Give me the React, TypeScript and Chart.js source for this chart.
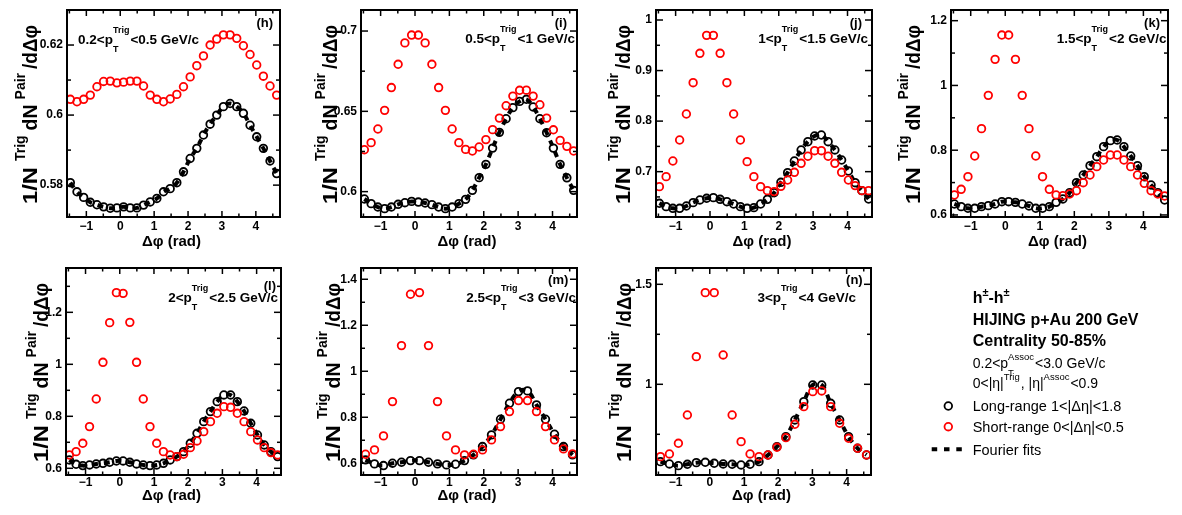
import React, { useEffect, useRef } from "react";
import { Chart, registerables } from "chart.js";
Chart.register(...registerables);

const FONT = '"Liberation Sans", Arial, Helvetica, sans-serif';

// ---------- bin centres ----------
const xBins32 = [-1.4726, -1.2763, -1.0799, -0.8836, -0.6872, -0.4909, -0.2945, -0.0982, 0.0982, 0.2945, 0.4909, 0.6872, 0.8836, 1.0799, 1.2763, 1.4726, 1.669, 1.8653, 2.0617, 2.258, 2.4544, 2.6507, 2.8471, 3.0434, 3.2398, 3.4361, 3.6325, 3.8288, 4.0252, 4.2215, 4.4179, 4.6142];
const xBins24 = [-1.4399, -1.1781, -0.9163, -0.6545, -0.3927, -0.1309, 0.1309, 0.3927, 0.6545, 0.9163, 1.1781, 1.4399, 1.7017, 1.9635, 2.2253, 2.4871, 2.7489, 3.0107, 3.2725, 3.5343, 3.7961, 4.0579, 4.3197, 4.5815];

// ---------- series (long-range = black, short-range = red) ----------
const longH = [0.5807, 0.5781, 0.5765, 0.5751, 0.5744, 0.5738, 0.5734, 0.5735, 0.5738, 0.5735, 0.5735, 0.5743, 0.5752, 0.5762, 0.5781, 0.579, 0.5807, 0.5838, 0.5876, 0.5905, 0.5943, 0.5974, 0.6, 0.6024, 0.6033, 0.6024, 0.6005, 0.5971, 0.5938, 0.5905, 0.5869, 0.5833];
const shortH = [0.6045, 0.6038, 0.6045, 0.6057, 0.6081, 0.6096, 0.6097, 0.6092, 0.6094, 0.6097, 0.6097, 0.6083, 0.6057, 0.6045, 0.6038, 0.6046, 0.6059, 0.6081, 0.6109, 0.6141, 0.6169, 0.62, 0.6217, 0.6229, 0.6229, 0.6219, 0.6198, 0.6173, 0.6143, 0.6111, 0.6083, 0.6057];

const longI = [0.5954, 0.5925, 0.5904, 0.5894, 0.5904, 0.5921, 0.5931, 0.5939, 0.5935, 0.5929, 0.5919, 0.5904, 0.5894, 0.5904, 0.5925, 0.5952, 0.6008, 0.6087, 0.617, 0.6271, 0.6369, 0.6454, 0.6523, 0.6562, 0.6575, 0.6527, 0.6454, 0.6367, 0.6271, 0.617, 0.6086, 0.6008];
const shortI = [0.6261, 0.6305, 0.639, 0.6506, 0.6648, 0.6793, 0.6926, 0.6975, 0.6975, 0.6926, 0.6793, 0.6648, 0.6506, 0.639, 0.6305, 0.6263, 0.6253, 0.6278, 0.6324, 0.6386, 0.6458, 0.6535, 0.6595, 0.6631, 0.6632, 0.6595, 0.6541, 0.6458, 0.6385, 0.6319, 0.6282, 0.6253];

const longJ = [0.6374, 0.6308, 0.6275, 0.6275, 0.6321, 0.6387, 0.644, 0.6473, 0.6486, 0.6453, 0.6406, 0.636, 0.6308, 0.6275, 0.6288, 0.636, 0.6453, 0.6584, 0.6789, 0.698, 0.7211, 0.7429, 0.7593, 0.7706, 0.7725, 0.7593, 0.7429, 0.7231, 0.7013, 0.6782, 0.6624, 0.6459];
const shortJ = [0.6703, 0.6901, 0.7211, 0.7626, 0.8141, 0.876, 0.9341, 0.9697, 0.9697, 0.9341, 0.876, 0.8141, 0.7626, 0.7198, 0.6901, 0.6703, 0.6624, 0.6605, 0.671, 0.6835, 0.6987, 0.7165, 0.7305, 0.7415, 0.7415, 0.7305, 0.7165, 0.6987, 0.6835, 0.6724, 0.6624, 0.6624];

const longK = [0.6339, 0.6256, 0.6206, 0.6206, 0.6256, 0.6287, 0.6339, 0.641, 0.641, 0.639, 0.6339, 0.6277, 0.6206, 0.6206, 0.6256, 0.639, 0.6493, 0.6689, 0.6997, 0.7234, 0.7523, 0.78, 0.8109, 0.8295, 0.8315, 0.8109, 0.7821, 0.7523, 0.7182, 0.6925, 0.6689, 0.6462];
const shortK = [0.6617, 0.6792, 0.7182, 0.7821, 0.8665, 0.9694, 1.0806, 1.1557, 1.1557, 1.0806, 0.9694, 0.8665, 0.7821, 0.7182, 0.6792, 0.6617, 0.6596, 0.6648, 0.675, 0.6997, 0.7234, 0.7492, 0.7697, 0.7852, 0.7852, 0.7697, 0.7492, 0.7234, 0.6977, 0.675, 0.6648, 0.6586];

const longL = [0.632, 0.6154, 0.6103, 0.6128, 0.6167, 0.6192, 0.6231, 0.6282, 0.6282, 0.6231, 0.6167, 0.6128, 0.6103, 0.6128, 0.6192, 0.632, 0.6449, 0.6641, 0.6962, 0.7346, 0.7795, 0.818, 0.8564, 0.8821, 0.8821, 0.8564, 0.8205, 0.7731, 0.7282, 0.6898, 0.6641, 0.6449];
const shortL = [0.6513, 0.6641, 0.6962, 0.7603, 0.8667, 1.0077, 1.1603, 1.2756, 1.273, 1.1615, 1.0077, 0.8667, 0.7603, 0.6962, 0.6641, 0.6513, 0.6449, 0.6539, 0.6795, 0.7051, 0.741, 0.7795, 0.8116, 0.8372, 0.8346, 0.8116, 0.7795, 0.741, 0.709, 0.6795, 0.6603, 0.6513];

const longM = [0.6147, 0.5973, 0.59, 0.6002, 0.6045, 0.6117, 0.6117, 0.6045, 0.5973, 0.5929, 0.5958, 0.6117, 0.6364, 0.6726, 0.7233, 0.7914, 0.861, 0.9117, 0.9146, 0.8537, 0.7914, 0.7262, 0.6726, 0.6364];
const shortM = [0.6393, 0.6581, 0.719, 0.8682, 1.1117, 1.3348, 1.342, 1.1117, 0.8682, 0.719, 0.6581, 0.6364, 0.6393, 0.6581, 0.7016, 0.7595, 0.8248, 0.8726, 0.8726, 0.8248, 0.7595, 0.7016, 0.6625, 0.6407];

const longN = [0.6133, 0.6017, 0.5933, 0.6, 0.6083, 0.61, 0.605, 0.6017, 0.6, 0.5967, 0.6, 0.6133, 0.6467, 0.6883, 0.7383, 0.8217, 0.9133, 0.9967, 0.9967, 0.905, 0.8217, 0.7383, 0.68, 0.6467];
const shortN = [0.6383, 0.6517, 0.705, 0.8467, 1.1383, 1.4583, 1.4583, 1.1467, 0.8467, 0.7133, 0.6517, 0.6383, 0.6467, 0.685, 0.7333, 0.8, 0.8883, 0.9633, 0.9667, 0.8883, 0.805, 0.73, 0.68, 0.6467];

// ---------- ticks ----------
const xMajor = [-1, 0, 1, 2, 3, 4];
const xMinor = [-1.5, -0.5, 0.5, 1.5, 2.5, 3.5, 4.5];
const xTickLabels = ["\u22121", "0", "1", "2", "3", "4"];

const yMajorH = [0.58, 0.6, 0.62];
const yMinorH = [0.59, 0.61];
const yMajorI = [0.6, 0.65, 0.7];
const yMinorI = [0.625, 0.675];
const yMajorJ = [0.7, 0.8, 0.9, 1];
const yMinorJ = [0.65, 0.75, 0.85, 0.95];
const yMajorK = [0.6, 0.8, 1, 1.2];
const yMinorK = [0.7, 0.9, 1.1];
const yMajorL = [0.6, 0.8, 1, 1.2];
const yMinorL = [0.7, 0.9, 1.1, 1.3];
const yMajorM = [0.6, 0.8, 1, 1.2, 1.4];
const yMinorM = [0.7, 0.9, 1.1, 1.3];
const yMajorN = [1, 1.5];
const yMinorN = [0.75, 1.25];

// ---------- panel labels ----------
const panelLetters = ["(h)", "(i)", "(j)", "(k)", "(l)", "(m)", "(n)"];
const ptLow = ["0.2", "0.5", "1", "1.5", "2", "2.5", "3"];
const ptHigh = ["0.5", "1", "1.5", "2", "2.5", "3", "4"];

type Panel = {
  L: number; R: number; T: number; B: number;
  x: number[]; long: number[]; short: number[];
  yMin: number; yMax: number; yMajor: number[]; yMinor: number[];
  letterInset: number; letterDy: number;
  ptAlign: "left" | "right"; ptInset: number; ptDy: number;
  titleOff: number; row: number;
};

const panels: Panel[] = [
  { L: 67, R: 280, T: 10, B: 217, x: xBins32, long: longH, short: shortH, yMin: 0.5709, yMax: 0.63, yMajor: yMajorH, yMinor: yMinorH, letterInset: 7, letterDy: 13, ptAlign: "left", ptInset: 11, ptDy: 29, titleOff: -37, row: 0 },
  { L: 361, R: 577, T: 10, B: 217, x: xBins32, long: longI, short: shortI, yMin: 0.5842, yMax: 0.7131, yMajor: yMajorI, yMinor: yMinorI, letterInset: 10, letterDy: 13, ptAlign: "right", ptInset: 2, ptDy: 28, titleOff: -31, row: 0 },
  { L: 656, R: 872, T: 10, B: 217, x: xBins32, long: longJ, short: shortJ, yMin: 0.6103, yMax: 1.0198, yMajor: yMajorJ, yMinor: yMinorJ, letterInset: 10, letterDy: 13, ptAlign: "right", ptInset: 4, ptDy: 28, titleOff: -33, row: 0 },
  { L: 951, R: 1168, T: 10, B: 217, x: xBins32, long: longK, short: shortK, yMin: 0.5937, yMax: 1.233, yMajor: yMajorK, yMinor: yMinorK, letterInset: 8, letterDy: 13, ptAlign: "right", ptInset: 1.5, ptDy: 28, titleOff: -38, row: 0 },
  { L: 66, R: 281, T: 268, B: 475, x: xBins32, long: longL, short: shortL, yMin: 0.5742, yMax: 1.3705, yMajor: yMajorL, yMinor: yMinorL, letterInset: 5, letterDy: 18.5, ptAlign: "right", ptInset: 3, ptDy: 28.7, titleOff: -25, row: 1 },
  { L: 361, R: 577, T: 268, B: 475, x: xBins24, long: longM, short: shortM, yMin: 0.549, yMax: 1.449, yMajor: yMajorM, yMinor: yMinorM, letterInset: 8.7, letterDy: 12, ptAlign: "right", ptInset: 1, ptDy: 28.7, titleOff: -28.5, row: 1 },
  { L: 656, R: 871, T: 268, B: 475, x: xBins24, long: longN, short: shortN, yMin: 0.5465, yMax: 1.5815, yMajor: yMajorN, yMinor: yMinorN, letterInset: 8.3, letterDy: 12, ptAlign: "right", ptInset: 15, ptDy: 28.7, titleOff: -32, row: 1 },
];

// ---------- rich text helpers ----------
type Seg = { t: string; s: number; dy?: number; noAdv?: boolean; gap?: number; fit?: number };
const fnt = (s: number, bold: boolean) => `${bold ? "bold " : ""}${s}px ${FONT}`;
function segAdv(ctx: CanvasRenderingContext2D, g: Seg, bold: boolean) {
  ctx.font = fnt(g.s, bold);
  const nat = ctx.measureText(g.t).width;
  return { nat, adv: g.fit !== undefined ? g.fit : nat };
}
function segsWidth(ctx: CanvasRenderingContext2D, segs: Seg[], bold: boolean) {
  let w = 0;
  for (const g of segs) {
    if (!g.noAdv) w += segAdv(ctx, g, bold).adv + (g.gap || 0);
  }
  return w;
}
function drawSegs(ctx: CanvasRenderingContext2D, segs: Seg[], x: number, yb: number, bold: boolean) {
  let cx = x;
  ctx.textAlign = "left";
  ctx.textBaseline = "alphabetic";
  for (const g of segs) {
    const { nat, adv } = segAdv(ctx, g, bold);
    if (g.fit !== undefined) {
      ctx.save();
      ctx.translate(cx, yb + (g.dy || 0));
      ctx.scale(adv / nat, 1);
      ctx.fillText(g.t, 0, 0);
      ctx.restore();
    } else {
      ctx.fillText(g.t, cx, yb + (g.dy || 0));
    }
    if (!g.noAdv) cx += adv + (g.gap || 0);
  }
}

const RED = "#ff0000";

function makeDecor(p: Panel, idx: number) {
  return {
    id: "decor" + idx,
    afterDraw(chart: any) {
      const ctx: CanvasRenderingContext2D = chart.ctx;
      const { left, right, top, bottom } = chart.chartArea;
      const xs = chart.scales.x;
      const ys = chart.scales.y;
      ctx.save();
      ctx.strokeStyle = "#000";
      ctx.fillStyle = "#000";
      ctx.lineWidth = 1.5;
      const seg = (x1: number, y1: number, x2: number, y2: number) => {
        ctx.beginPath(); ctx.moveTo(x1, y1); ctx.lineTo(x2, y2); ctx.stroke();
      };
      for (const v of xMajor) { const px = xs.getPixelForValue(v); seg(px, bottom, px, bottom - 6); seg(px, top, px, top + 6); }
      for (const v of xMinor) { const px = xs.getPixelForValue(v); seg(px, bottom, px, bottom - 3.5); seg(px, top, px, top + 3.5); }
      for (const v of p.yMajor) { const py = ys.getPixelForValue(v); seg(left, py, left + 7, py); seg(right, py, right - 7, py); }
      for (const v of p.yMinor) { const py = ys.getPixelForValue(v); seg(left, py, left + 4, py); seg(right, py, right - 4, py); }
      ctx.lineWidth = 2;
      ctx.strokeRect(left, top, right - left, bottom - top);

      // tick labels
      ctx.font = fnt(12, true);
      ctx.textBaseline = "middle";
      ctx.textAlign = "center";
      const tly = p.row === 0 ? 9.5 : 8;
      xMajor.forEach((v, i) => ctx.fillText(xTickLabels[i], xs.getPixelForValue(v), bottom + tly));
      ctx.textAlign = "right";
      for (const v of p.yMajor) ctx.fillText(String(v), left - 4, ys.getPixelForValue(v));

      // x title
      ctx.font = fnt(15, true);
      ctx.textAlign = "center";
      ctx.fillText("\u0394\u03c6 (rad)", (left + right) / 2 - 2, bottom + (p.row === 0 ? 24.5 : 20.7));

      // y title (rotated)
      const ySegs: Seg[] = [
        { t: "1/N", s: 19.5, gap: 6, fit: 37 },
        { t: "Trig", s: 14, dy: -12.5, gap: 5 },
        { t: "dN", s: 19.5, gap: 5 },
        { t: "Pair", s: 14, dy: -12.5, gap: 4 },
        { t: "/d\u0394\u03c6", s: 19.5, fit: 44 },
      ];
      const tw = segsWidth(ctx, ySegs, true);
      ctx.save();
      ctx.translate(left + p.titleOff, (top + bottom) / 2 + 1);
      ctx.rotate(-Math.PI / 2);
      drawSegs(ctx, ySegs, -tw / 2, 0.36 * 19.5, true);
      ctx.restore();

      // panel letter
      ctx.font = fnt(13, true);
      ctx.textAlign = "right";
      ctx.textBaseline = "middle";
      ctx.fillText(panelLetters[idx], right - p.letterInset, top + p.letterDy);

      // pT range text
      const ptSegs: Seg[] = [
        { t: ptLow[idx] + "<p", s: 13.5 },
        { t: "T", s: 9, dy: 8.5, noAdv: true },
        { t: "Trig", s: 9, dy: -10.5, gap: 1 },
        { t: "<" + ptHigh[idx] + " GeV/c", s: 13.5 },
      ];
      const pw = segsWidth(ctx, ptSegs, true);
      const px0 = p.ptAlign === "left" ? left + p.ptInset : right - p.ptInset - pw;
      drawSegs(ctx, ptSegs, px0, top + p.ptDy + 0.36 * 13.5, true);
      ctx.restore();
    },
  };
}

function PanelChart({ p, idx }: { p: Panel; idx: number }) {
  const ref = useRef<HTMLCanvasElement>(null);
  const padL = 70, padR = 10, padT = 12, padB = 50;
  const W = p.R - p.L + padL + padR;
  const H = p.B - p.T + padT + padB;
  useEffect(() => {
    if (!ref.current) return;
    const longPts = p.x.map((x, i) => ({ x, y: p.long[i] }));
    const shortPts = p.x.map((x, i) => ({ x, y: p.short[i] }));
    const chart = new Chart(ref.current, {
      type: "scatter",
      data: {
        datasets: [
          {
            label: "short",
            data: shortPts,
            showLine: false,
            pointStyle: "circle",
            pointRadius: 3.8,
            pointBorderWidth: 1.8,
            borderColor: RED,
            pointBorderColor: RED,
            backgroundColor: "rgba(0,0,0,0)",
            pointBackgroundColor: "rgba(0,0,0,0)",
          },
          {
            label: "fit",
            data: longPts,
            showLine: true,
            borderColor: "#000",
            borderWidth: 4,
            borderDash: [6, 6],
            pointRadius: 0,
            tension: 0.4,
            fill: false,
          },
          {
            label: "long",
            data: longPts,
            showLine: false,
            pointStyle: "circle",
            pointRadius: 3.8,
            pointBorderWidth: 1.8,
            borderColor: "#000",
            pointBorderColor: "#000",
            backgroundColor: "rgba(0,0,0,0)",
            pointBackgroundColor: "rgba(0,0,0,0)",
          },
        ],
      } as any,
      options: {
        responsive: false,
        animation: false,
        devicePixelRatio: 1,
        events: [],
        layout: { padding: { left: padL, right: padR, top: padT, bottom: padB } },
        plugins: { legend: { display: false }, tooltip: { enabled: false } },
        scales: {
          x: { type: "linear", display: false, min: -Math.PI / 2, max: (3 * Math.PI) / 2 },
          y: { type: "linear", display: false, min: p.yMin, max: p.yMax },
        },
      } as any,
      plugins: [makeDecor(p, idx)],
    });
    return () => chart.destroy();
  }, []);
  return (
    <canvas
      ref={ref}
      width={W}
      height={H}
      style={{ position: "absolute", left: p.L - padL, top: p.T - padT, width: W, height: H }}
    />
  );
}

function LegendBox() {
  const ref = useRef<HTMLCanvasElement>(null);
  useEffect(() => {
    const c = ref.current;
    if (!c) return;
    const ctx = c.getContext("2d")!;
    ctx.clearRect(0, 0, c.width, c.height);
    ctx.fillStyle = "#000";
    const tx = 72.7;
    drawSegs(ctx, [
      { t: "h", s: 16 }, { t: "\u00b1", s: 11, dy: -7 }, { t: "-h", s: 16 }, { t: "\u00b1", s: 11, dy: -7 },
    ], tx, 26.7 + 5.8, true);
    drawSegs(ctx, [{ t: "HIJING p+Au 200 GeV", s: 16 }], tx, 49.3 + 5.8, true);
    drawSegs(ctx, [{ t: "Centrality 50-85%", s: 16 }], tx, 70 + 5.8, true);
    drawSegs(ctx, [
      { t: "0.2<p", s: 14 },
      { t: "T", s: 9.5, dy: 8.5, noAdv: true },
      { t: "Assoc", s: 9.5, dy: -8, gap: 1 },
      { t: "<3.0 GeV/c", s: 14 },
    ], tx, 92.7 + 5, false);
    drawSegs(ctx, [
      { t: "0<|\u03b7|", s: 14 },
      { t: "Trig", s: 9.5, dy: -8.5, gap: 1 },
      { t: ", |\u03b7|", s: 14 },
      { t: "Assoc", s: 9.5, dy: -8.5, gap: 1 },
      { t: "<0.9", s: 14 },
    ], tx, 113.3 + 5, false);
    drawSegs(ctx, [{ t: "Long-range 1<|\u0394\u03b7|<1.8", s: 14.5 }], tx, 136 + 5.2, false);
    drawSegs(ctx, [{ t: "Short-range 0<|\u0394\u03b7|<0.5", s: 14.5 }], tx, 156.7 + 5.2, false);
    drawSegs(ctx, [{ t: "Fourier fits", s: 14.5 }], tx, 179.3 + 5.2, false);
    // markers
    ctx.lineWidth = 1.8;
    ctx.strokeStyle = "#000";
    ctx.beginPath(); ctx.arc(48.3, 136, 3.8, 0, Math.PI * 2); ctx.stroke();
    ctx.strokeStyle = RED;
    ctx.beginPath(); ctx.arc(48.3, 156.7, 3.8, 0, Math.PI * 2); ctx.stroke();
    ctx.strokeStyle = "#000";
    ctx.lineWidth = 4;
    ctx.setLineDash([5.5, 6.8]);
    ctx.beginPath(); ctx.moveTo(31.7, 179.3); ctx.lineTo(62.5, 179.3); ctx.stroke();
    ctx.setLineDash([]);
  }, []);
  return (
    <canvas ref={ref} width={282} height={200} style={{ position: "absolute", left: 900, top: 270, width: 282, height: 200 }} />
  );
}

export default function App() {
  return (
    <div style={{ position: "fixed", left: 0, top: 0, width: 1182, height: 515, background: "#fff", overflow: "hidden" }}>
      {panels.map((p, i) => (
        <PanelChart key={i} p={p} idx={i} />
      ))}
      <LegendBox />
    </div>
  );
}
